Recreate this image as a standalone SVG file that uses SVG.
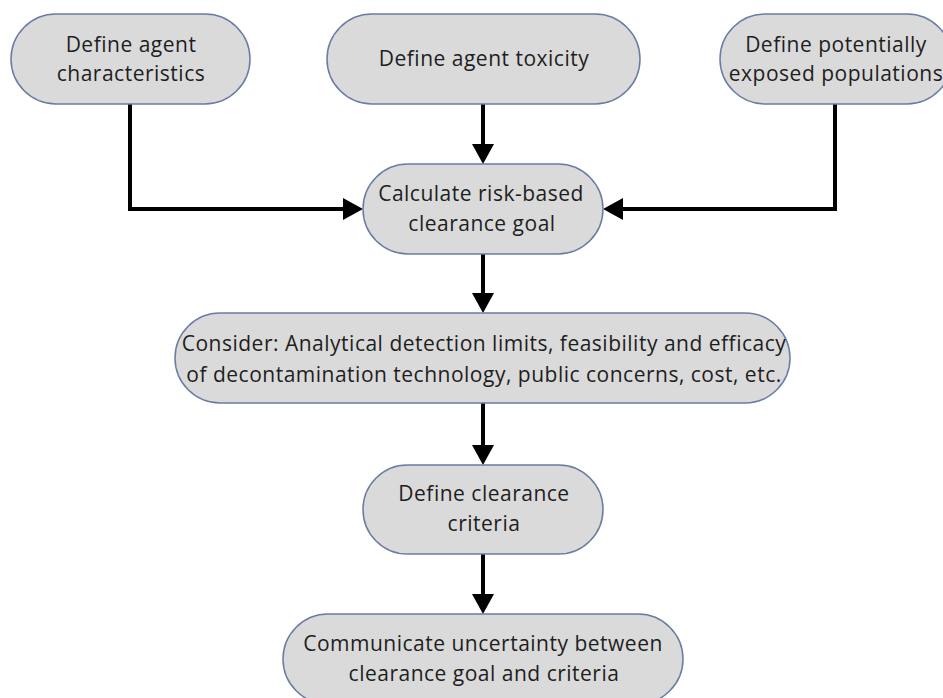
<svg xmlns="http://www.w3.org/2000/svg" width="943" height="698" viewBox="0 0 943 698">
<style>
.n{fill:#dadada;stroke:#6a7ca3;stroke-width:1.5}
.t{font-family:"Open Sans","Liberation Sans",Arial,sans-serif;font-size:21px;letter-spacing:0.5px;fill:#1e1e1e;text-anchor:middle}
.c{fill:none;stroke:#000;stroke-width:4}
</style>
<defs>
<marker id="ah" markerUnits="userSpaceOnUse" markerWidth="20" markerHeight="22" refX="6" refY="11" orient="auto">
<path d="M0,0 L20,11 L0,22 Z" fill="#000"/>
</marker>
</defs>
<rect width="943" height="698" fill="#fff"/>
<g id="connectors">
<path class="c" d="M130,104 V209 H349" marker-end="url(#ah)"/>
<path class="c" d="M483,104 V150" marker-end="url(#ah)"/>
<path class="c" d="M835,104 V209 H617" marker-end="url(#ah)"/>
<path class="c" d="M483,254 V299" marker-end="url(#ah)"/>
<path class="c" d="M483,403 V451" marker-end="url(#ah)"/>
<path class="c" d="M483,554 V600" marker-end="url(#ah)"/>
</g>
<g id="n1"><rect class="n" x="11" y="14" width="239" height="90" rx="45"/>
<text class="t" x="131" y="52">Define agent</text><text class="t" x="131" y="81">characteristics</text></g>
<g id="n2"><rect class="n" x="327" y="14" width="313" height="90" rx="45"/>
<text class="t" x="484" y="66">Define agent toxicity</text></g>
<g id="n3"><rect class="n" x="720" y="14" width="232" height="90" rx="45"/>
<text class="t" x="836" y="52">Define potentially</text><text class="t" x="836" y="81">exposed populations</text></g>
<g id="n4"><rect class="n" x="363" y="164" width="240" height="90" rx="45"/>
<text class="t" x="481" y="201">Calculate risk-based</text><text class="t" x="482" y="231">clearance goal</text></g>
<g id="n5"><rect class="n" x="175" y="313" width="615" height="90" rx="45"/>
<text class="t" x="484" y="351">Consider: Analytical detection limits, feasibility and efficacy</text><text class="t" x="484" y="382">of decontamination technology, public concerns, cost, etc.</text></g>
<g id="n6"><rect class="n" x="363" y="465" width="240" height="89" rx="44.5"/>
<text class="t" x="484" y="501">Define clearance</text><text class="t" x="484" y="531">criteria</text></g>
<g id="n7"><rect class="n" x="283" y="614" width="400" height="90" rx="45"/>
<text class="t" x="483" y="651">Communicate uncertainty between</text><text class="t" x="484" y="681">clearance goal and criteria</text></g>
</svg>
